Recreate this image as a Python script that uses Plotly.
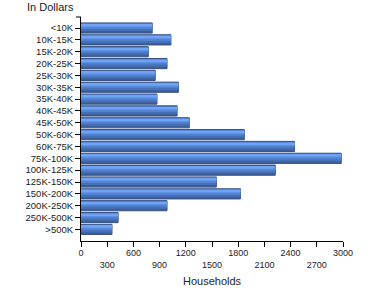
import plotly.graph_objects as go

categories = ["<10K", "10K-15K", "15K-20K", "20K-25K", "25K-30K", "30K-35K", "35K-40K",
              "40K-45K", "45K-50K", "50K-60K", "60K-75K", "75K-100K", "100K-125K",
              "125K-150K", "150K-200K", "200K-250K", "250K-500K", ">500K"]
households = [815, 1030, 770, 985, 850, 1115, 870, 1100, 1240, 1870, 2445, 2980, 2225,
              1550, 1825, 985, 425, 355]
tick_values = list(range(0, 3001, 300))
tick_labels = [str(v) if i % 2 == 0 else "<br>" + str(v) for i, v in enumerate(tick_values)]

fig = go.Figure()

# gradient bar simulated with stacked stripes (top lighter, bottom darker)
half = 0.43
layers = [
    (-half, 2 * half, "#3D5F99", dict(color="#3A5282", width=1)),
    (-half + 0.07, 0.62, "#4670B5", None),
    (-half + 0.07, 0.45, "#5282CF", None),
    (-half + 0.07, 0.30, "#5F92E6", None),
    (-half + 0.14, 0.14, "#6FA3F5", None),
]
for off, w, col, line in layers:
    fig.add_trace(go.Bar(
        y=categories, x=households, orientation="h",
        offset=off, width=w,
        marker=dict(color=col, line=line if line else dict(width=0)),
        hoverinfo="skip", showlegend=False,
    ))

fig.update_layout(
    width=370, height=300, autosize=False,
    margin=dict(l=81, r=27, t=17, b=59),
    paper_bgcolor="white", plot_bgcolor="white",
    barmode="overlay",
    font=dict(family="Liberation Sans, Arial, sans-serif", color="#222222", size=9),
    showlegend=False,
)
fig.update_xaxes(
    range=[0, 3000], tickvals=tick_values, ticktext=tick_labels,
    showgrid=False, zeroline=False, showline=True, linecolor="black", linewidth=1,
    ticks="outside", ticklen=5, tickcolor="black", tickfont=dict(size=9),
    ticklabelstandoff=-2,
)
fig.update_yaxes(
    type="category", categoryorder="array", categoryarray=categories,
    range=[17.98, -0.93],
    showgrid=False, zeroline=False, showline=True, linecolor="black", linewidth=1,
    ticks="outside", ticklen=5, tickcolor="black", tickfont=dict(size=9.5),
)
fig.add_shape(type="line", xref="paper", yref="paper", x0=-5 / 262, x1=0, y0=1, y1=1,
              line=dict(color="black", width=1))
fig.add_annotation(text="In Dollars", xref="paper", yref="paper",
                   x=(25 - 81) / 262, y=1 + 10 / 224, xanchor="left", yanchor="middle",
                   showarrow=False, font=dict(size=11, color="#222222"))
fig.add_annotation(text="Households", xref="paper", yref="paper",
                   x=0.5, y=-(281 - 241) / 224, xanchor="center", yanchor="middle",
                   showarrow=False, font=dict(size=11, color="#222222"))

fig.write_html("out.html")
